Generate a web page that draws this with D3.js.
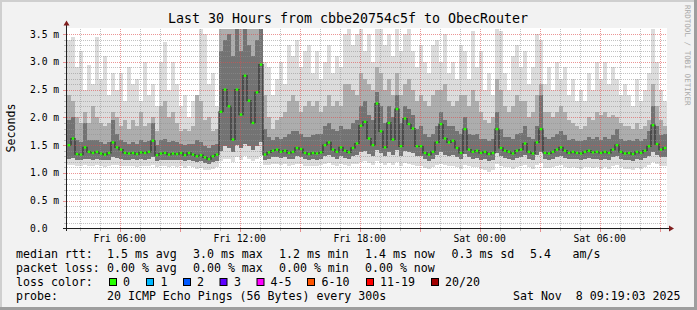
<!DOCTYPE html>
<html>
<head>
<meta charset="utf-8">
<script src="https://cdn.jsdelivr.net/npm/d3@7"></script>
<style>
  html, body { margin: 0; padding: 0; background: #f2f2f2; }
  svg { display: block; }
  text { font-family: "DejaVu Sans Mono", monospace; fill: #000; }
</style>
</head>
<body>
<svg id="chart"></svg>
<script>
// one smoke sample every 12 minutes, 150 samples = 30 hours, values in ms
let pMed = [1.50,1.62,1.34,1.33,1.46,1.38,1.36,1.38,1.35,1.33,
            1.36,1.55,1.46,1.42,1.36,1.35,1.36,1.34,1.37,1.36,
            1.38,1.58,1.32,1.35,1.36,1.33,1.35,1.34,1.36,1.32,
            1.36,1.33,1.30,1.32,1.28,1.25,1.30,1.33,2.10,2.50,
            2.20,1.60,2.50,2.05,2.75,2.30,1.90,2.45,2.95,1.33,
            1.37,1.40,1.42,1.38,1.40,1.36,1.38,1.45,1.43,1.36,
            1.34,1.36,1.35,1.37,1.50,1.55,1.42,1.38,1.46,1.40,
            1.37,1.45,1.53,1.85,1.92,1.62,1.50,2.25,1.75,1.46,
            1.90,1.60,2.15,1.48,1.98,1.88,1.80,1.48,1.48,1.36,
            1.33,1.38,1.55,1.88,1.62,1.55,1.58,1.45,1.36,1.79,
            1.42,1.38,1.40,1.36,1.38,1.34,1.36,1.79,1.45,1.40,
            1.38,1.35,1.40,1.42,1.53,1.38,1.35,1.55,1.79,1.36,
            1.35,1.38,1.42,1.46,1.40,1.36,1.38,1.36,1.35,1.38,
            1.40,1.37,1.38,1.36,1.38,1.36,1.42,1.50,1.38,1.35,
            1.36,1.34,1.38,1.36,1.40,1.48,1.86,1.52,1.42,1.45];

let pMin = [1.14,1.15,1.13,1.12,1.14,1.13,1.12,1.14,1.13,1.11,
            1.12,1.15,1.14,1.13,1.12,1.12,1.13,1.11,1.13,1.12,
            1.13,1.15,1.10,1.12,1.12,1.11,1.12,1.10,1.12,1.09,
            1.12,1.10,1.08,1.09,1.06,1.05,1.08,1.10,1.22,1.26,
            1.25,1.20,1.28,1.24,1.30,1.26,1.22,1.26,1.30,1.14,
            1.15,1.16,1.17,1.15,1.16,1.13,1.14,1.17,1.16,1.13,
            1.12,1.13,1.12,1.14,1.16,1.18,1.15,1.13,1.16,1.14,
            1.13,1.16,1.17,1.20,1.22,1.18,1.15,1.22,1.18,1.14,
            1.18,1.15,1.20,1.13,1.18,1.17,1.15,1.12,1.12,1.09,
            1.07,1.10,1.14,1.17,1.14,1.12,1.13,1.10,1.08,1.15,
            1.12,1.10,1.11,1.08,1.06,1.02,1.05,1.16,1.12,1.10,
            1.10,1.08,1.11,1.12,1.15,1.10,1.08,1.14,1.18,1.09,
            1.09,1.10,1.12,1.14,1.11,1.09,1.10,1.09,1.08,1.10,
            1.11,1.09,1.10,1.08,1.10,1.08,1.12,1.15,1.10,1.07,
            1.08,1.06,1.09,1.08,1.11,1.14,1.20,1.16,1.12,1.13];

let pLow = [1.26,1.27,1.24,1.23,1.26,1.25,1.24,1.25,1.24,1.23,
            1.24,1.28,1.27,1.26,1.24,1.24,1.25,1.23,1.25,1.24,
            1.25,1.28,1.22,1.24,1.24,1.23,1.24,1.23,1.24,1.21,
            1.24,1.22,1.20,1.21,1.18,1.16,1.20,1.22,1.40,1.48,
            1.45,1.38,1.50,1.45,1.52,1.48,1.42,1.48,1.55,1.24,
            1.26,1.28,1.29,1.27,1.28,1.25,1.26,1.30,1.29,1.25,
            1.24,1.25,1.24,1.26,1.30,1.32,1.28,1.26,1.30,1.27,
            1.26,1.30,1.32,1.38,1.40,1.34,1.30,1.42,1.36,1.30,
            1.38,1.32,1.42,1.30,1.40,1.38,1.36,1.30,1.30,1.25,
            1.22,1.26,1.32,1.38,1.33,1.31,1.32,1.28,1.25,1.35,
            1.28,1.26,1.27,1.24,1.25,1.22,1.24,1.36,1.30,1.27,
            1.26,1.24,1.27,1.28,1.32,1.26,1.24,1.32,1.38,1.25,
            1.24,1.26,1.28,1.30,1.27,1.25,1.26,1.25,1.24,1.26,
            1.27,1.25,1.26,1.24,1.26,1.24,1.28,1.31,1.26,1.23,
            1.24,1.22,1.25,1.24,1.27,1.30,1.38,1.32,1.28,1.29];

let pHigh = [1.95,2.00,1.60,1.55,1.90,1.60,1.60,1.60,1.55,1.52,
             1.55,1.95,1.70,1.60,1.55,1.52,1.55,1.52,1.60,1.55,
             1.58,1.90,1.50,1.60,1.62,1.55,1.58,1.55,1.52,1.50,
             1.52,1.52,1.60,1.55,1.48,1.45,1.50,1.52,3.20,3.40,
             3.50,3.10,3.60,3.20,3.60,3.30,3.10,3.40,3.60,1.80,
             1.65,1.60,1.65,1.62,1.65,1.70,1.75,1.75,1.70,1.65,
             1.65,1.68,1.70,1.70,1.85,1.90,1.80,1.75,1.85,1.80,
             1.80,1.90,1.95,2.20,2.30,2.05,1.95,2.45,2.20,1.90,
             2.20,2.00,2.40,1.90,2.20,2.15,2.05,1.80,1.85,1.70,
             1.65,1.70,1.85,2.10,1.95,1.85,1.85,1.75,1.70,2.00,
             1.70,1.68,1.70,1.62,1.62,1.58,1.62,2.10,1.80,1.65,
             1.65,1.62,1.70,1.72,1.85,1.65,1.62,1.85,2.40,1.65,
             1.62,1.65,1.70,1.75,1.68,1.60,1.62,1.58,1.57,1.60,
             1.65,1.62,1.65,1.60,1.65,1.62,1.68,1.80,1.62,1.58,
             1.60,1.57,1.62,1.58,1.62,1.75,2.20,1.85,1.68,1.70];

let pUp = [2.40,2.30,2.00,1.90,2.10,1.90,2.20,2.00,1.90,1.85,
           1.90,2.10,2.00,1.85,1.95,1.80,1.95,1.85,2.10,1.85,
           1.90,2.00,1.75,2.20,2.30,2.00,2.10,1.90,1.75,1.80,
           1.75,1.85,2.40,2.30,1.95,2.00,1.75,1.80,3.60,3.60,
           3.60,3.60,3.60,3.60,3.60,3.60,3.60,3.60,3.60,2.40,
           2.00,1.80,1.95,2.00,2.10,2.30,2.40,2.30,2.10,2.20,
           2.30,2.20,2.30,2.10,2.20,2.40,2.20,2.30,2.20,2.60,
           2.60,2.50,2.40,2.80,2.70,2.60,2.50,2.90,2.80,2.50,
           2.70,2.40,2.80,2.40,2.60,2.70,2.50,2.30,2.40,2.30,
           2.20,2.40,2.50,2.50,2.60,2.30,2.20,2.30,2.40,2.40,
           2.20,2.50,2.30,2.10,1.95,1.90,2.00,2.70,2.50,2.20,
           2.10,2.20,2.40,2.30,2.30,2.00,2.10,2.40,2.60,2.10,
           2.10,2.00,2.10,2.20,2.10,1.95,1.90,1.85,1.80,1.85,
           2.00,1.95,2.10,2.05,2.10,2.00,2.05,2.00,1.90,1.85,
           1.85,1.80,1.90,1.80,1.85,1.95,2.60,2.20,1.95,1.85];

let pMax = [3.40,3.45,2.90,3.20,2.50,2.95,2.60,3.45,2.70,3.10,
            2.40,2.80,2.50,2.80,2.30,2.90,2.60,2.70,2.30,3.00,
            2.40,2.60,2.20,3.00,3.35,2.50,3.00,2.60,2.20,2.40,
            2.00,2.30,2.10,3.60,3.50,2.60,2.80,2.20,3.60,3.60,
            3.60,3.60,3.60,3.60,3.60,3.60,3.60,3.60,3.60,3.00,
            2.90,2.40,2.70,3.00,2.60,3.30,3.10,3.40,2.90,3.20,
            3.30,2.80,3.20,2.70,3.00,3.30,2.80,3.10,2.90,3.50,
            3.60,3.30,3.50,3.60,3.20,3.50,3.00,3.60,3.60,3.30,
            3.50,3.10,3.60,3.20,3.50,3.60,3.20,2.90,3.30,3.00,
            2.80,3.30,3.40,3.00,3.50,2.80,3.00,2.70,3.30,3.20,
            2.70,3.55,2.90,3.20,2.50,2.80,2.40,3.60,3.55,2.80,
            2.50,3.10,3.30,2.90,3.20,2.60,2.90,3.50,3.40,2.60,
            2.90,2.50,3.00,2.70,2.90,2.40,2.70,2.30,2.50,2.30,
            2.80,2.50,3.00,2.70,3.00,2.60,2.90,2.70,2.40,2.60,
            2.40,2.20,2.70,2.30,2.50,2.80,3.60,3.00,2.50,2.30];

let yTicks = [0, 0.5, 1.0, 1.5, 2.0, 2.5, 3.0, 3.5];
let yLabels = ["0.0", "0.5 m", "1.0 m", "1.5 m", "2.0 m", "2.5 m", "3.0 m", "3.5 m"];
let xLabels = ["Fri 06:00", "Fri 12:00", "Fri 18:00", "Sat 00:00", "Sat 06:00"];
let xLabelTimes = [new Date(2025, 10, 7, 6), new Date(2025, 10, 7, 12), new Date(2025, 10, 7, 18),
                   new Date(2025, 10, 8, 0), new Date(2025, 10, 8, 6)];

let rttItems = ["1.5 ms avg", "3.0 ms max", "1.2 ms min", "1.4 ms now", "0.3 ms sd", "5.4", "am/s"];
let lossItems = ["0.00 % avg", "0.00 % max", "0.00 % min", "0.00 % now"];
let lossNames = ["0", "1", "2", "3", "4-5", "6-10", "11-19", "20/20"];
let lossColors = ["#26ff00", "#00b8ff", "#0059ff", "#5e00ff", "#ff00ff", "#ff5500", "#ff0000", "#a00000"];

let width = 697;
let height = 310;
let plotLeft = 67, plotRight = 667;
let plotTop = 28.5, plotBottom = 228.5;

let start = new Date(2025, 10, 7, 3, 22);
let end = new Date(2025, 10, 8, 9, 22);
let step = 12; // minutes
let n = pMed.length;

function sampleTime(i) {
  return d3.timeMinute.offset(start, i * step);
}

let svg = d3.select("#chart")
    .attr("width", width)
    .attr("height", height);

// background and 3d frame
svg.append("rect").attr("width", width).attr("height", height).style("fill", "#f2f2f2");
svg.append("rect").attr("x", 0).attr("y", 0).attr("width", width).attr("height", 2).style("fill", "#cfcfcf");
svg.append("rect").attr("x", 0).attr("y", 0).attr("width", 2).attr("height", height).style("fill", "#cfcfcf");
svg.append("rect").attr("x", width - 3).attr("y", 0).attr("width", 3).attr("height", height).style("fill", "#9e9e9e");
svg.append("rect").attr("x", 0).attr("y", height - 3).attr("width", width).attr("height", 3).style("fill", "#9e9e9e");

let scaleX = d3.scaleTime()
    .domain([start, end])
    .range([plotLeft, plotRight]);

let scaleY = d3.scaleLinear()
    .domain([0, 3.6])
    .range([plotBottom, plotTop]);

// canvas
svg.append("rect")
    .attr("x", plotLeft)
    .attr("y", 28)
    .attr("width", plotRight - plotLeft)
    .attr("height", 201)
    .style("fill", "#ffffff");

// smoke: outer pings light, inner pings dark
let bands = [
  {lo: pMin, hi: pMax, color: "#dcdcdc"},
  {lo: pLow, hi: pUp, color: "#adadad"},
  {lo: pLow, hi: pHigh, color: "#737373"}
];

bands.forEach(function(b) {
  svg.append("g")
    .attr("shape-rendering", "crispEdges")
    .selectAll("rect")
    .data(d3.range(n))
    .enter()
    .append("rect")
    .attr("x", i => scaleX(sampleTime(i)))
    .attr("width", i => scaleX(sampleTime(i + 1)) - scaleX(sampleTime(i)))
    .attr("y", i => scaleY(b.hi[i]))
    .attr("height", i => scaleY(b.lo[i]) - scaleY(b.hi[i]))
    .style("fill", b.color);
});

// median core
let medLine = d3.line()
    .x((d, i) => scaleX(sampleTime(i + 0.5)))
    .y(d => scaleY(d))
    .curve(d3.curveStep);

svg.append("path")
    .datum(pMed)
    .attr("d", medLine)
    .style("fill", "none")
    .style("stroke", "#333333")
    .style("stroke-width", 1.2);

// grid on top of the data, like rrdtool
let minorCol = "rgba(143,143,143,0.55)";
let majorCol = "rgba(222,79,79,0.6)";
let grid = svg.append("g").attr("shape-rendering", "crispEdges");

d3.range(1, 36).forEach(function(k) {
  let v = k / 10;
  let major = k % 5 === 0;
  let y = Math.round(scaleY(v)) + 0.5;
  grid.append("line")
    .attr("x1", plotLeft).attr("x2", plotRight)
    .attr("y1", y).attr("y2", y)
    .style("stroke", major ? majorCol : minorCol)
    .style("stroke-dasharray", "1,1");
  grid.append("line")
    .attr("x1", major ? 63 : 64).attr("x2", 66)
    .attr("y1", y).attr("y2", y)
    .style("stroke", major ? majorCol : minorCol);
});

d3.timeHour.every(1).range(start, end).forEach(function(t) {
  let major = t.getHours() % 3 === 0;
  let x = Math.round(scaleX(t)) + 0.5;
  grid.append("line")
    .attr("x1", x).attr("x2", x)
    .attr("y1", plotTop).attr("y2", plotBottom)
    .style("stroke", major ? majorCol : minorCol)
    .style("stroke-dasharray", "1,1");
  grid.append("line")
    .attr("x1", x).attr("x2", x)
    .attr("y1", 229).attr("y2", major ? 232 : 231)
    .style("stroke", major ? majorCol : minorCol);
});

// green median dots (0 loss)
svg.append("g")
    .selectAll("rect")
    .data(pMed)
    .enter()
    .append("rect")
    .attr("x", (d, i) => scaleX(sampleTime(i + 0.5)) - 1.3)
    .attr("y", d => scaleY(d) - 1.2)
    .attr("width", 2.6)
    .attr("height", 2.4)
    .style("fill", lossColors[0]);

// axes with arrows
let axisCol = "#1f1f1f";
svg.append("line")
    .attr("x1", 63).attr("x2", 670)
    .attr("y1", plotBottom).attr("y2", plotBottom)
    .style("stroke", axisCol);
svg.append("line")
    .attr("x1", 66.5).attr("x2", 66.5)
    .attr("y1", 231).attr("y2", 24)
    .style("stroke", axisCol);
svg.append("path")
    .attr("d", "M669,225.5 L674,228.5 L669,231.5 Z")
    .style("fill", "#801f1f");
svg.append("path")
    .attr("d", "M63.5,25.5 L66.5,20.5 L69.5,25.5 Z")
    .style("fill", "#801f1f");

// tick labels
svg.selectAll(".ylab")
    .data(yTicks)
    .enter()
    .append("text")
    .attr("class", "ylab")
    .attr("x", 30)
    .attr("y", d => scaleY(d) + 3.5)
    .style("font-size", "9.7px")
    .text((d, i) => yLabels[i]);

svg.selectAll(".xlab")
    .data(xLabelTimes)
    .enter()
    .append("text")
    .attr("class", "xlab")
    .attr("x", d => scaleX(d))
    .attr("y", 242)
    .attr("text-anchor", "middle")
    .style("font-size", "9.7px")
    .text((d, i) => xLabels[i]);

// title, axis title, watermark
svg.append("text")
    .attr("x", 348)
    .attr("y", 23)
    .attr("text-anchor", "middle")
    .style("font-size", "13.3px")
    .text("Last 30 Hours from cbbe20754c5f to ObecRouter");

svg.append("text")
    .attr("transform", "translate(15,128) rotate(-90)")
    .attr("text-anchor", "middle")
    .style("font-size", "11.6px")
    .text("Seconds");

svg.append("text")
    .attr("transform", "translate(685,5) rotate(90)")
    .style("font-size", "7.6px")
    .style("fill", "#aaaaaa")
    .text("RRDTOOL / TOBI OETIKER");

// legend
let fs = "11.6px";
let colX = [107, 193, 279, 365, 451.5, 530, 572.5];

svg.append("text").attr("x", 16).attr("y", 258).style("font-size", fs).text("median rtt:");
rttItems.forEach(function(s, i) {
  svg.append("text").attr("x", colX[i]).attr("y", 258).style("font-size", fs).text(s);
});

svg.append("text").attr("x", 16).attr("y", 272).style("font-size", fs).text("packet loss:");
lossItems.forEach(function(s, i) {
  svg.append("text").attr("x", colX[i]).attr("y", 272).style("font-size", fs).text(s);
});

svg.append("text").attr("x", 16).attr("y", 286).style("font-size", fs).text("loss color:");
let boxX = [109, 146, 183, 219.5, 256.5, 307, 366, 431];
let boxTextX = [123, 160.5, 197, 234, 270.5, 321.5, 380, 445];
lossNames.forEach(function(s, i) {
  svg.append("rect")
    .attr("x", boxX[i] + 0.5).attr("y", 278.5)
    .attr("width", 7).attr("height", 7)
    .style("fill", lossColors[i])
    .style("stroke", "#000")
    .style("stroke-width", 1);
  svg.append("text").attr("x", boxTextX[i]).attr("y", 286).style("font-size", fs).text(s);
});

svg.append("text").attr("x", 16).attr("y", 300).style("font-size", fs).text("probe:");
svg.append("text").attr("x", 107).attr("y", 300).style("font-size", fs)
    .text("20 ICMP Echo Pings (56 Bytes) every 300s");
svg.append("text").attr("x", 680.5).attr("y", 300).attr("text-anchor", "end")
    .style("font-size", fs).style("white-space", "pre")
    .text("Sat Nov  8 09:19:03 2025");
</script>
</body>
</html>
